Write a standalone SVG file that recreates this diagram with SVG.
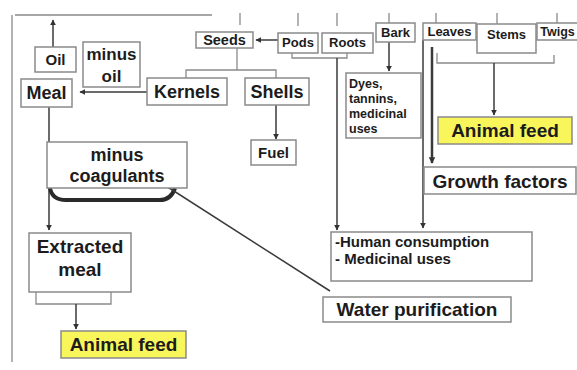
<svg xmlns="http://www.w3.org/2000/svg" width="577" height="370" viewBox="0 0 577 370">
<defs>
<marker id="ah" viewBox="0 0 10 10" refX="9" refY="5" markerWidth="4" markerHeight="4" orient="auto-start-reverse">
<path d="M0,0 L10,5 L0,10 z" fill="#333"/>
</marker>
<marker id="ah2" viewBox="0 0 10 10" refX="9" refY="5" markerWidth="2.6" markerHeight="2.6" orient="auto-start-reverse">
<path d="M0,0 L10,5 L0,10 z" fill="#333"/>
</marker>
</defs>
<style>
.box{fill:#fff;stroke:#8a8a8a;stroke-width:1.5}
.yel{fill:#f9f65c;stroke:#8a8a8a;stroke-width:1.5}
.ln{fill:none;stroke:#3a3a3a;stroke-width:1.5}
.lg{fill:none;stroke:#8a8a8a;stroke-width:1.3}
text{font-family:"Liberation Sans",Arial,sans-serif;font-weight:bold;fill:#1c1c1c}
.c{text-anchor:middle}
</style>
<rect width="577" height="370" fill="#fff"/>
<g id="connectors">
<path class="lg" d="M15,15 H212 M12,15 V362"/>
<path class="lg" d="M240,13 V25 M298,13 V26 M337,13 V26 M389,13 V25 M436,13 V25 M497,13 V25 M557,13 V25"/>
<path class="ln" d="M53,47 V20" marker-end="url(#ah)"/>
<path class="ln" d="M147,92 H80" marker-end="url(#ah)"/>
<path class="ln" d="M49,107 V142"/>
<path class="ln" d="M49,188 V230" marker-end="url(#ah)"/>
<path class="lg" d="M36,292 V304 H111 V292"/>
<path class="ln" d="M76,304 V329" marker-end="url(#ah)"/>
<path d="M50,188 Q52,200 66,200 L160,200 Q171,200 175,188" fill="none" stroke="#2a2a2a" stroke-width="4"/>
<path class="ln" d="M163,184 L330,291"/>
<path class="ln" d="M278,40 H256" marker-end="url(#ah)"/>
<path class="lg" d="M237,48 V70 M186,78 V70 H276 V78"/>
<path class="ln" d="M276,105 V139" marker-end="url(#ah)"/>
<path class="lg" d="M292,53 V58 H347 V53"/>
<path class="ln" d="M337,58 V230" marker-end="url(#ah)"/>
<path class="ln" d="M389,42 V71" marker-end="url(#ah)"/>
<path class="ln" d="M423,40 V228" marker-end="url(#ah)"/>
<path d="M432,47 V163" fill="none" stroke="#3a3a3a" stroke-width="2.5" marker-end="url(#ah2)"/>
<path class="lg" d="M437,53 V63 H554 V55"/>
<path class="ln" d="M494,63 V115" marker-end="url(#ah)"/>
</g>
<g id="oil"><rect class="box" x="35" y="47" width="41" height="25"/><text x="55.5" y="65" font-size="15" class="c">Oil</text></g>
<g id="minus-oil"><rect class="box" x="83" y="42" width="57" height="45"/><text x="111.5" y="60" font-size="17" class="c">minus</text><text x="111.5" y="82" font-size="17" class="c">oil</text></g>
<g id="meal"><rect class="box" x="21" y="79" width="51" height="28"/><text x="46.5" y="99" font-size="18" class="c">Meal</text></g>
<g id="kernels"><rect class="box" x="147" y="78" width="80" height="27"/><text x="187" y="98" font-size="18" class="c">Kernels</text></g>
<g id="shells"><rect class="box" x="245" y="78" width="64" height="27"/><text x="277" y="98" font-size="18" class="c">Shells</text></g>
<g id="fuel"><rect class="box" x="251" y="140" width="45" height="25"/><text x="273.5" y="158" font-size="15" class="c">Fuel</text></g>
<g id="seeds"><rect class="box" x="196" y="32" width="57" height="16"/><text x="224.5" y="45" font-size="14.5" class="c">Seeds</text></g>
<g id="pods"><rect class="box" x="278" y="33" width="40" height="20"/><text x="298" y="47" font-size="13" class="c">Pods</text></g>
<g id="roots"><rect class="box" x="322" y="33" width="51" height="20"/><text x="347.5" y="47" font-size="13" class="c">Roots</text></g>
<g id="bark"><rect class="box" x="376" y="23" width="39" height="19"/><text x="395.5" y="37" font-size="13" class="c">Bark</text></g>
<g id="dyes"><rect class="box" x="346" y="73" width="75" height="65"/>
<text x="349" y="88" font-size="12.5">Dyes,</text><text x="349" y="103" font-size="12.5">tannins,</text><text x="349" y="118" font-size="12.5">medicinal</text><text x="349" y="133" font-size="12.5">uses</text></g>
<g id="leaves"><rect class="box" x="423" y="23" width="53" height="17"/><text x="449.5" y="36" font-size="13" class="c">Leaves</text></g>
<g id="stems"><rect class="box" x="477" y="24" width="59" height="29"/><text x="506.5" y="39" font-size="13" class="c">Stems</text></g>
<g id="twigs"><rect class="box" x="537" y="23" width="42" height="17"/><text x="557.5" y="36" font-size="12.5" class="c">Twigs</text></g>
<g id="animal-feed-right"><rect class="yel" x="438" y="117" width="134" height="27"/><text x="505" y="137" font-size="19" class="c">Animal feed</text></g>
<g id="growth-factors"><rect class="box" x="424" y="167" width="152" height="27"/><text x="500" y="188" font-size="19" class="c">Growth factors</text></g>
<g id="minus-coagulants"><rect class="box" x="47" y="142" width="140" height="46"/><text x="117" y="161" font-size="18" class="c">minus</text><text x="117" y="182" font-size="18" class="c">coagulants</text></g>
<g id="extracted-meal"><rect class="box" x="29" y="233" width="102" height="59"/><text x="80" y="253" font-size="19" class="c">Extracted</text><text x="80" y="276" font-size="19" class="c">meal</text></g>
<g id="animal-feed-left"><rect class="yel" x="61" y="331" width="125" height="27"/><text x="123.5" y="351" font-size="19" class="c">Animal feed</text></g>
<g id="human"><rect class="box" x="331" y="232" width="201" height="49"/><text x="335" y="247" font-size="15">-Human consumption</text><text x="335" y="264" font-size="15">- Medicinal uses</text></g>
<g id="water"><rect class="box" x="323" y="297" width="188" height="25"/><text x="417" y="316" font-size="19" class="c">Water purification</text></g>
</svg>
